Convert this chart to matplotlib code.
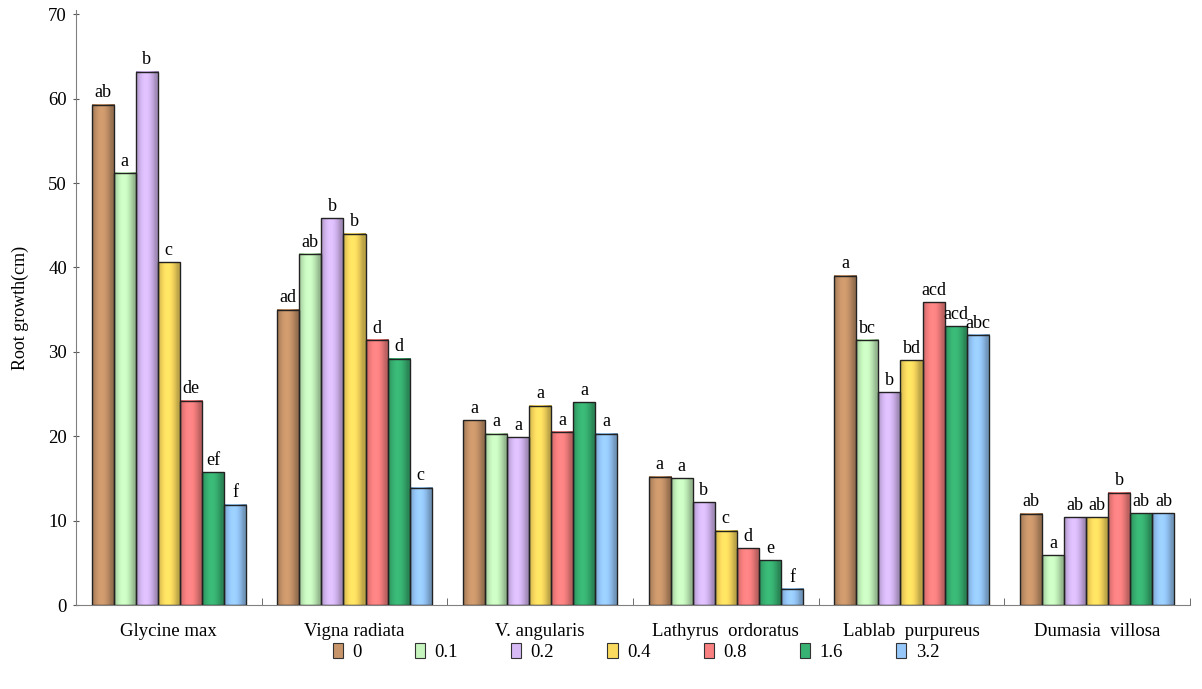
import numpy as np
import matplotlib
matplotlib.use("Agg")
import matplotlib.pyplot as plt
from matplotlib.patches import Patch
from matplotlib.colors import to_rgb

plt.rcParams['font.family'] = ['Liberation Serif', 'DejaVu Serif']

categories = ["Glycine max", "Vigna radiata", "V. angularis", "Lathyrus  ordoratus",
              "Lablab  purpureus", "Dumasia  villosa"]
series = ["0", "0.1", "0.2", "0.4", "0.8", "1.6", "3.2"]
values = {
    "0":   [59.3, 35.0, 21.9, 15.2, 39.0, 10.8],
    "0.1": [51.2, 41.6, 20.3, 15.0, 31.4, 5.9],
    "0.2": [63.2, 45.8, 19.9, 12.2, 25.2, 10.4],
    "0.4": [40.6, 44.0, 23.6, 8.8, 29.0, 10.4],
    "0.8": [24.2, 31.4, 20.5, 6.7, 35.9, 13.3],
    "1.6": [15.7, 29.2, 24.0, 5.3, 33.0, 10.9],
    "3.2": [11.9, 13.9, 20.3, 1.9, 32.0, 10.9],
}
letters = {
    "0":   ["ab", "ad", "a", "a", "a", "ab"],
    "0.1": ["a", "ab", "a", "a", "bc", "a"],
    "0.2": ["b", "b", "a", "b", "b", "ab"],
    "0.4": ["c", "b", "a", "c", "bd", "ab"],
    "0.8": ["de", "d", "a", "d", "acd", "b"],
    "1.6": ["ef", "d", "a", "e", "acd", "ab"],
    "3.2": ["f", "c", "a", "f", "abc", "ab"],
}
colors = ["#C8956A", "#C6F5BE", "#D7B9F5", "#FBDB5F", "#F98080", "#38B272", "#96C8FA"]

fig = plt.figure(figsize=(12.02, 6.89), dpi=100)
ax = fig.add_axes([76/1202, 1-605/689, (1190-76)/1202, (605-10)/689])

n = len(series)
bw = 0.119
x = np.arange(len(categories))

# gradient profile across a bar (dark edges, light left-center)
t = np.linspace(0, 1, 64)
prof = 0.80 + 0.28*np.sin(np.pi*np.clip(t*1.15, 0, 1)) - 0.05*t

for i, s in enumerate(series):
    base = np.array(to_rgb(colors[i]))
    grad = np.clip(base[None, :] * prof[:, None], 0, 1)[None, :, :]
    offs = (i - (n-1)/2) * bw
    vals = values[s]
    bars = ax.bar(x + offs, vals, width=bw, facecolor='none', edgecolor='#222222',
                  linewidth=1.0, zorder=3)
    for b, v, lab in zip(bars, vals, letters[s]):
        x0 = b.get_x()
        ax.imshow(grad, extent=(x0, x0 + bw, 0, v), aspect='auto', zorder=2,
                  interpolation='bilinear')
        ax.text(x0 + bw/2, v + 0.4, lab, ha='center', va='bottom', fontsize=13)

ax.set_xlim(-0.5, 5.5)
ax.set_ylim(0, 70.5)
ax.set_yticks(np.arange(0, 71, 10))
ax.set_xticks(x)
ax.set_xticklabels(categories, fontsize=13.5)
ax.set_xticks(np.arange(0.5, 5.6, 1), minor=True)
ax.tick_params(axis='x', which='major', length=0, pad=13)
ax.tick_params(axis='x', which='minor', direction='in', length=5, color='#555555')
ax.tick_params(axis='y', direction='inout', length=5, labelsize=13.5, pad=4, color='#555555')
ax.spines['top'].set_visible(False)
ax.spines['right'].set_visible(False)
ax.spines['left'].set_color('#808080')
ax.spines['bottom'].set_color('#808080')
ax.set_ylabel("Root growth(cm)", fontsize=13, labelpad=14)

handles = [Patch(facecolor=c, edgecolor='#333333', linewidth=0.8) for c in colors]
fig.legend(handles, series, loc='center', bbox_to_anchor=(0.529, 1-652/689), ncol=7,
           frameon=False, fontsize=13.5, handlelength=0.55, handleheight=0.8,
           handletextpad=0.5, columnspacing=2.83)

fig.savefig("out.png", dpi=100)
